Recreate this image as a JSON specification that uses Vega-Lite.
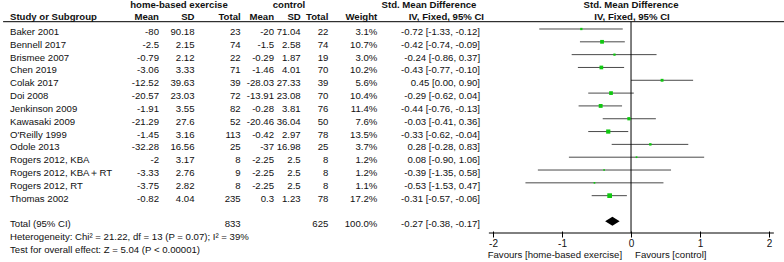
{
  "$schema": "https://vega.github.io/schema/vega-lite/v6.json",
  "width": 784,
  "height": 262,
  "padding": 0,
  "autosize": {"type": "none"},
  "background": "white",
  "config": {
    "view": {"stroke": null},
    "text": {"font": "Liberation Sans", "fontSize": 9.6, "color": "#111", "baseline": "middle", "dy": 3},
    "axisX": {"grid": false, "domain": false, "title": null}
  },
  "datasets": {
    "rows": [
      {"row": 1, "study": "Baker 2001", "m1": -80, "sd1": 90.18, "n1": 23, "m2": -20, "sd2": 71.04, "n2": 22, "w": 0.031, "smd": -0.72, "lo": -1.33, "hi": -0.12, "ci": "-0.72 [-1.33, -0.12]"},
      {"row": 2, "study": "Bennell 2017", "m1": -2.5, "sd1": 2.15, "n1": 74, "m2": -1.5, "sd2": 2.58, "n2": 74, "w": 0.107, "smd": -0.42, "lo": -0.74, "hi": -0.09, "ci": "-0.42 [-0.74, -0.09]"},
      {"row": 3, "study": "Brismee 2007", "m1": -0.79, "sd1": 2.12, "n1": 22, "m2": -0.29, "sd2": 1.87, "n2": 19, "w": 0.030, "smd": -0.24, "lo": -0.86, "hi": 0.37, "ci": "-0.24 [-0.86, 0.37]"},
      {"row": 4, "study": "Chen 2019", "m1": -3.06, "sd1": 3.33, "n1": 71, "m2": -1.46, "sd2": 4.01, "n2": 70, "w": 0.102, "smd": -0.43, "lo": -0.77, "hi": -0.10, "ci": "-0.43 [-0.77, -0.10]"},
      {"row": 5, "study": "Colak 2017", "m1": -12.52, "sd1": 39.63, "n1": 39, "m2": -28.03, "sd2": 27.33, "n2": 39, "w": 0.056, "smd": 0.45, "lo": 0.00, "hi": 0.90, "ci": "0.45 [0.00, 0.90]"},
      {"row": 6, "study": "Doi 2008", "m1": -20.57, "sd1": 23.03, "n1": 72, "m2": -13.91, "sd2": 23.08, "n2": 70, "w": 0.104, "smd": -0.29, "lo": -0.62, "hi": 0.04, "ci": "-0.29 [-0.62, 0.04]"},
      {"row": 7, "study": "Jenkinson 2009", "m1": -1.91, "sd1": 3.55, "n1": 82, "m2": -0.28, "sd2": 3.81, "n2": 76, "w": 0.114, "smd": -0.44, "lo": -0.76, "hi": -0.13, "ci": "-0.44 [-0.76, -0.13]"},
      {"row": 8, "study": "Kawasaki 2009", "m1": -21.29, "sd1": 27.6, "n1": 52, "m2": -20.46, "sd2": 36.04, "n2": 50, "w": 0.076, "smd": -0.03, "lo": -0.41, "hi": 0.36, "ci": "-0.03 [-0.41, 0.36]"},
      {"row": 9, "study": "O'Reilly 1999", "m1": -1.45, "sd1": 3.16, "n1": 113, "m2": -0.42, "sd2": 2.97, "n2": 78, "w": 0.135, "smd": -0.33, "lo": -0.62, "hi": -0.04, "ci": "-0.33 [-0.62, -0.04]"},
      {"row": 10, "study": "Odole 2013", "m1": -32.28, "sd1": 16.56, "n1": 25, "m2": -37, "sd2": 16.98, "n2": 25, "w": 0.037, "smd": 0.28, "lo": -0.28, "hi": 0.83, "ci": "0.28 [-0.28, 0.83]"},
      {"row": 11, "study": "Rogers 2012, KBA", "m1": -2, "sd1": 3.17, "n1": 8, "m2": -2.25, "sd2": 2.5, "n2": 8, "w": 0.012, "smd": 0.08, "lo": -0.90, "hi": 1.06, "ci": "0.08 [-0.90, 1.06]"},
      {"row": 12, "study": "Rogers 2012, KBA＋RT", "m1": -3.33, "sd1": 2.76, "n1": 9, "m2": -2.25, "sd2": 2.5, "n2": 8, "w": 0.012, "smd": -0.39, "lo": -1.35, "hi": 0.58, "ci": "-0.39 [-1.35, 0.58]"},
      {"row": 13, "study": "Rogers 2012, RT", "m1": -3.75, "sd1": 2.82, "n1": 8, "m2": -2.25, "sd2": 2.5, "n2": 8, "w": 0.011, "smd": -0.53, "lo": -1.53, "hi": 0.47, "ci": "-0.53 [-1.53, 0.47]"},
      {"row": 14, "study": "Thomas 2002", "m1": -0.82, "sd1": 4.04, "n1": 235, "m2": 0.3, "sd2": 1.23, "n2": 78, "w": 0.172, "smd": -0.31, "lo": -0.57, "hi": -0.06, "ci": "-0.31 [-0.57, -0.06]"},
      {"row": 16, "study": "Total (95% CI)", "n1": 833, "n2": 625, "w": 1.0, "smd": -0.27, "lo": -0.38, "hi": -0.17, "ci": "-0.27 [-0.38, -0.17]"}
    ]
  },
  "data": {"name": "rows"},
  "layer": [
    {
      "transform": [{"filter": "datum.row <= 14"}],
      "mark": {"type": "rule", "color": "#4a4a4a", "strokeWidth": 1},
      "encoding": {
        "x": {"field": "lo", "type": "quantitative", "scale": {"domain": [-9.145, 2.217], "nice": false, "zero": false},
              "axis": {"values": [-2, -1, 0, 1, 2], "offset": -31, "domain": false, "grid": false, "ticks": true, "tickSize": 6, "tickColor": "#000",
                       "labelFontSize": 10, "labelFont": "Liberation Sans", "labelColor": "#111", "labelPadding": 1, "title": null,
                       "labelExpr": "'' + datum.value"}},
        "x2": {"field": "hi"},
        "y": {"field": "row", "type": "quantitative", "scale": {"domain": [-1.262, 19.175], "reverse": true, "nice": false, "zero": false}, "axis": null}
      }
    },
    {
      "data": {"values": [{}]},
      "mark": {"type": "rule", "color": "#000", "strokeWidth": 1},
      "encoding": {"x": {"datum": -9.10}, "x2": {"datum": 2.217}, "y": {"datum": 0.43, "axis": null}}
    },
    {
      "data": {"values": [{}]},
      "mark": {"type": "rule", "color": "#000", "strokeWidth": 1},
      "encoding": {"x": {"datum": 0}, "y": {"datum": 0.43, "axis": null}, "y2": {"datum": 16.913}}
    },
    {
      "data": {"values": [{}]},
      "mark": {"type": "rule", "color": "#000", "strokeWidth": 1},
      "encoding": {"x": {"datum": -2.06}, "x2": {"datum": 2.07}, "y": {"datum": 16.913, "axis": null}}
    },
    {
      "transform": [{"filter": "datum.row <= 14"}],
      "mark": {"type": "point", "shape": "square", "filled": true, "color": "#10c810", "opacity": 1, "strokeWidth": 0},
      "encoding": {
        "x": {"field": "smd", "type": "quantitative"},
        "y": {"field": "row", "type": "quantitative", "axis": null},
        "size": {"field": "w", "type": "quantitative", "scale": {"domain": [0, 0.172], "range": [1.5, 22]}, "legend": null}
      }
    },
    {
      "transform": [{"filter": "datum.row == 16"}],
      "mark": {"type": "point", "shape": "M-1,0L0,-0.62L1,0L0,0.62Z", "filled": true, "color": "#000", "opacity": 1, "strokeWidth": 0, "size": 210},
      "encoding": {
        "x": {"field": "smd", "type": "quantitative"},
        "y": {"field": "row", "type": "quantitative", "axis": null}
      }
    },
    {
      "mark": {"type": "text", "align": "left"},
      "encoding": {
        "x": {"datum": -9.0},
        "y": {"field": "row", "type": "quantitative", "axis": null},
        "text": {"field": "study", "type": "nominal"},
        "fontWeight": {"condition": {"test": "datum.row == 16", "value": "bold"}, "value": "normal"}
      }
    },
    {
      "transform": [{"filter": "datum.row <= 14"}],
      "mark": {"type": "text", "align": "right"},
      "encoding": {
        "x": {"datum": -6.841},
        "y": {"field": "row", "type": "quantitative", "axis": null},
        "text": {"field": "m1", "type": "nominal"}
      }
    },
    {
      "transform": [{"filter": "datum.row <= 14"}],
      "mark": {"type": "text", "align": "right"},
      "encoding": {
        "x": {"datum": -6.326},
        "y": {"field": "row", "type": "quantitative", "axis": null},
        "text": {"field": "sd1", "type": "nominal"}
      }
    },
    {
      "mark": {"type": "text", "align": "right"},
      "encoding": {
        "x": {"datum": -5.657},
        "y": {"field": "row", "type": "quantitative", "axis": null},
        "text": {"field": "n1", "type": "nominal"},
        "fontWeight": {"condition": {"test": "datum.row == 16", "value": "bold"}, "value": "normal"}
      }
    },
    {
      "transform": [{"filter": "datum.row <= 14"}],
      "mark": {"type": "text", "align": "right"},
      "encoding": {
        "x": {"datum": -5.174},
        "y": {"field": "row", "type": "quantitative", "axis": null},
        "text": {"field": "m2", "type": "nominal"}
      }
    },
    {
      "transform": [{"filter": "datum.row <= 14"}],
      "mark": {"type": "text", "align": "right"},
      "encoding": {
        "x": {"datum": -4.787},
        "y": {"field": "row", "type": "quantitative", "axis": null},
        "text": {"field": "sd2", "type": "nominal"}
      }
    },
    {
      "mark": {"type": "text", "align": "right"},
      "encoding": {
        "x": {"datum": -4.387},
        "y": {"field": "row", "type": "quantitative", "axis": null},
        "text": {"field": "n2", "type": "nominal"},
        "fontWeight": {"condition": {"test": "datum.row == 16", "value": "bold"}, "value": "normal"}
      }
    },
    {
      "mark": {"type": "text", "align": "right"},
      "encoding": {
        "x": {"datum": -3.677},
        "y": {"field": "row", "type": "quantitative", "axis": null},
        "text": {"field": "w", "type": "quantitative", "format": ".1%"},
        "fontWeight": {"condition": {"test": "datum.row == 16", "value": "bold"}, "value": "normal"}
      }
    },
    {
      "mark": {"type": "text", "align": "right"},
      "encoding": {
        "x": {"datum": -2.188},
        "y": {"field": "row", "type": "quantitative", "axis": null},
        "text": {"field": "ci", "type": "nominal"},
        "fontWeight": {"condition": {"test": "datum.row == 16", "value": "bold"}, "value": "normal"}
      }
    },
    {
      "data": {"values": [{}]},
      "mark": {"type": "text", "align": "center", "fontWeight": "bold", "dy": 1.6},
      "encoding": {"x": {"datum": -6.551}, "y": {"datum": -1, "axis": null}, "text": {"value": "home-based exercise"}}
    },
    {
      "data": {"values": [{}]},
      "mark": {"type": "text", "align": "center", "fontWeight": "bold", "dy": 1.6},
      "encoding": {"x": {"datum": -4.957}, "y": {"datum": -1, "axis": null}, "text": {"value": "control"}}
    },
    {
      "data": {"values": [{}]},
      "mark": {"type": "text", "align": "center", "fontWeight": "bold", "dy": 1.6},
      "encoding": {"x": {"datum": -2.928}, "y": {"datum": -1, "axis": null}, "text": {"value": "Std. Mean Difference"}}
    },
    {
      "data": {"values": [{}]},
      "mark": {"type": "text", "align": "center", "fontWeight": "bold", "dy": 1.6},
      "encoding": {"x": {"datum": 0}, "y": {"datum": -1, "axis": null}, "text": {"value": "Std. Mean Difference"}}
    },
    {
      "data": {"values": [{}]},
      "mark": {"type": "text", "align": "left", "fontWeight": "bold", "dy": 1},
      "encoding": {"x": {"datum": -9.0}, "y": {"datum": 0, "axis": null}, "text": {"value": "Study or Subgroup"}}
    },
    {
      "data": {"values": [{}]},
      "mark": {"type": "text", "align": "right", "fontWeight": "bold", "dy": 1},
      "encoding": {"x": {"datum": -6.841}, "y": {"datum": 0, "axis": null}, "text": {"value": "Mean"}}
    },
    {
      "data": {"values": [{}]},
      "mark": {"type": "text", "align": "right", "fontWeight": "bold", "dy": 1},
      "encoding": {"x": {"datum": -6.326}, "y": {"datum": 0, "axis": null}, "text": {"value": "SD"}}
    },
    {
      "data": {"values": [{}]},
      "mark": {"type": "text", "align": "right", "fontWeight": "bold", "dy": 1},
      "encoding": {"x": {"datum": -5.657}, "y": {"datum": 0, "axis": null}, "text": {"value": "Total"}}
    },
    {
      "data": {"values": [{}]},
      "mark": {"type": "text", "align": "right", "fontWeight": "bold", "dy": 1},
      "encoding": {"x": {"datum": -5.174}, "y": {"datum": 0, "axis": null}, "text": {"value": "Mean"}}
    },
    {
      "data": {"values": [{}]},
      "mark": {"type": "text", "align": "right", "fontWeight": "bold", "dy": 1},
      "encoding": {"x": {"datum": -4.787}, "y": {"datum": 0, "axis": null}, "text": {"value": "SD"}}
    },
    {
      "data": {"values": [{}]},
      "mark": {"type": "text", "align": "right", "fontWeight": "bold", "dy": 1},
      "encoding": {"x": {"datum": -4.387}, "y": {"datum": 0, "axis": null}, "text": {"value": "Total"}}
    },
    {
      "data": {"values": [{}]},
      "mark": {"type": "text", "align": "right", "fontWeight": "bold", "dy": 1},
      "encoding": {"x": {"datum": -3.677}, "y": {"datum": 0, "axis": null}, "text": {"value": "Weight"}}
    },
    {
      "data": {"values": [{}]},
      "mark": {"type": "text", "align": "right", "fontWeight": "bold", "dy": 1},
      "encoding": {"x": {"datum": -2.130}, "y": {"datum": 0, "axis": null}, "text": {"value": "IV, Fixed, 95% CI"}}
    },
    {
      "data": {"values": [{}]},
      "mark": {"type": "text", "align": "center", "fontWeight": "bold", "dy": 1},
      "encoding": {"x": {"datum": 0.015}, "y": {"datum": 0, "axis": null}, "text": {"value": "IV, Fixed, 95% CI"}}
    },
    {
      "data": {"values": [{}]},
      "mark": {"type": "text", "align": "left"},
      "encoding": {"x": {"datum": -9.0}, "y": {"datum": 17, "axis": null}, "text": {"value": "Heterogeneity: Chi² = 21.22, df = 13 (P = 0.07); I² = 39%"}}
    },
    {
      "data": {"values": [{}]},
      "mark": {"type": "text", "align": "left"},
      "encoding": {"x": {"datum": -9.0}, "y": {"datum": 18, "axis": null}, "text": {"value": "Test for overall effect: Z = 5.04 (P < 0.00001)"}}
    },
    {
      "data": {"values": [{}]},
      "mark": {"type": "text", "align": "right", "dy": 0},
      "encoding": {"x": {"datum": -0.13}, "y": {"datum": 18.6, "axis": null}, "text": {"value": "Favours [home-based exercise]"}}
    },
    {
      "data": {"values": [{}]},
      "mark": {"type": "text", "align": "left", "dy": 0},
      "encoding": {"x": {"datum": 0.058}, "y": {"datum": 18.6, "axis": null}, "text": {"value": "Favours [control]"}}
    }
  ]
}
